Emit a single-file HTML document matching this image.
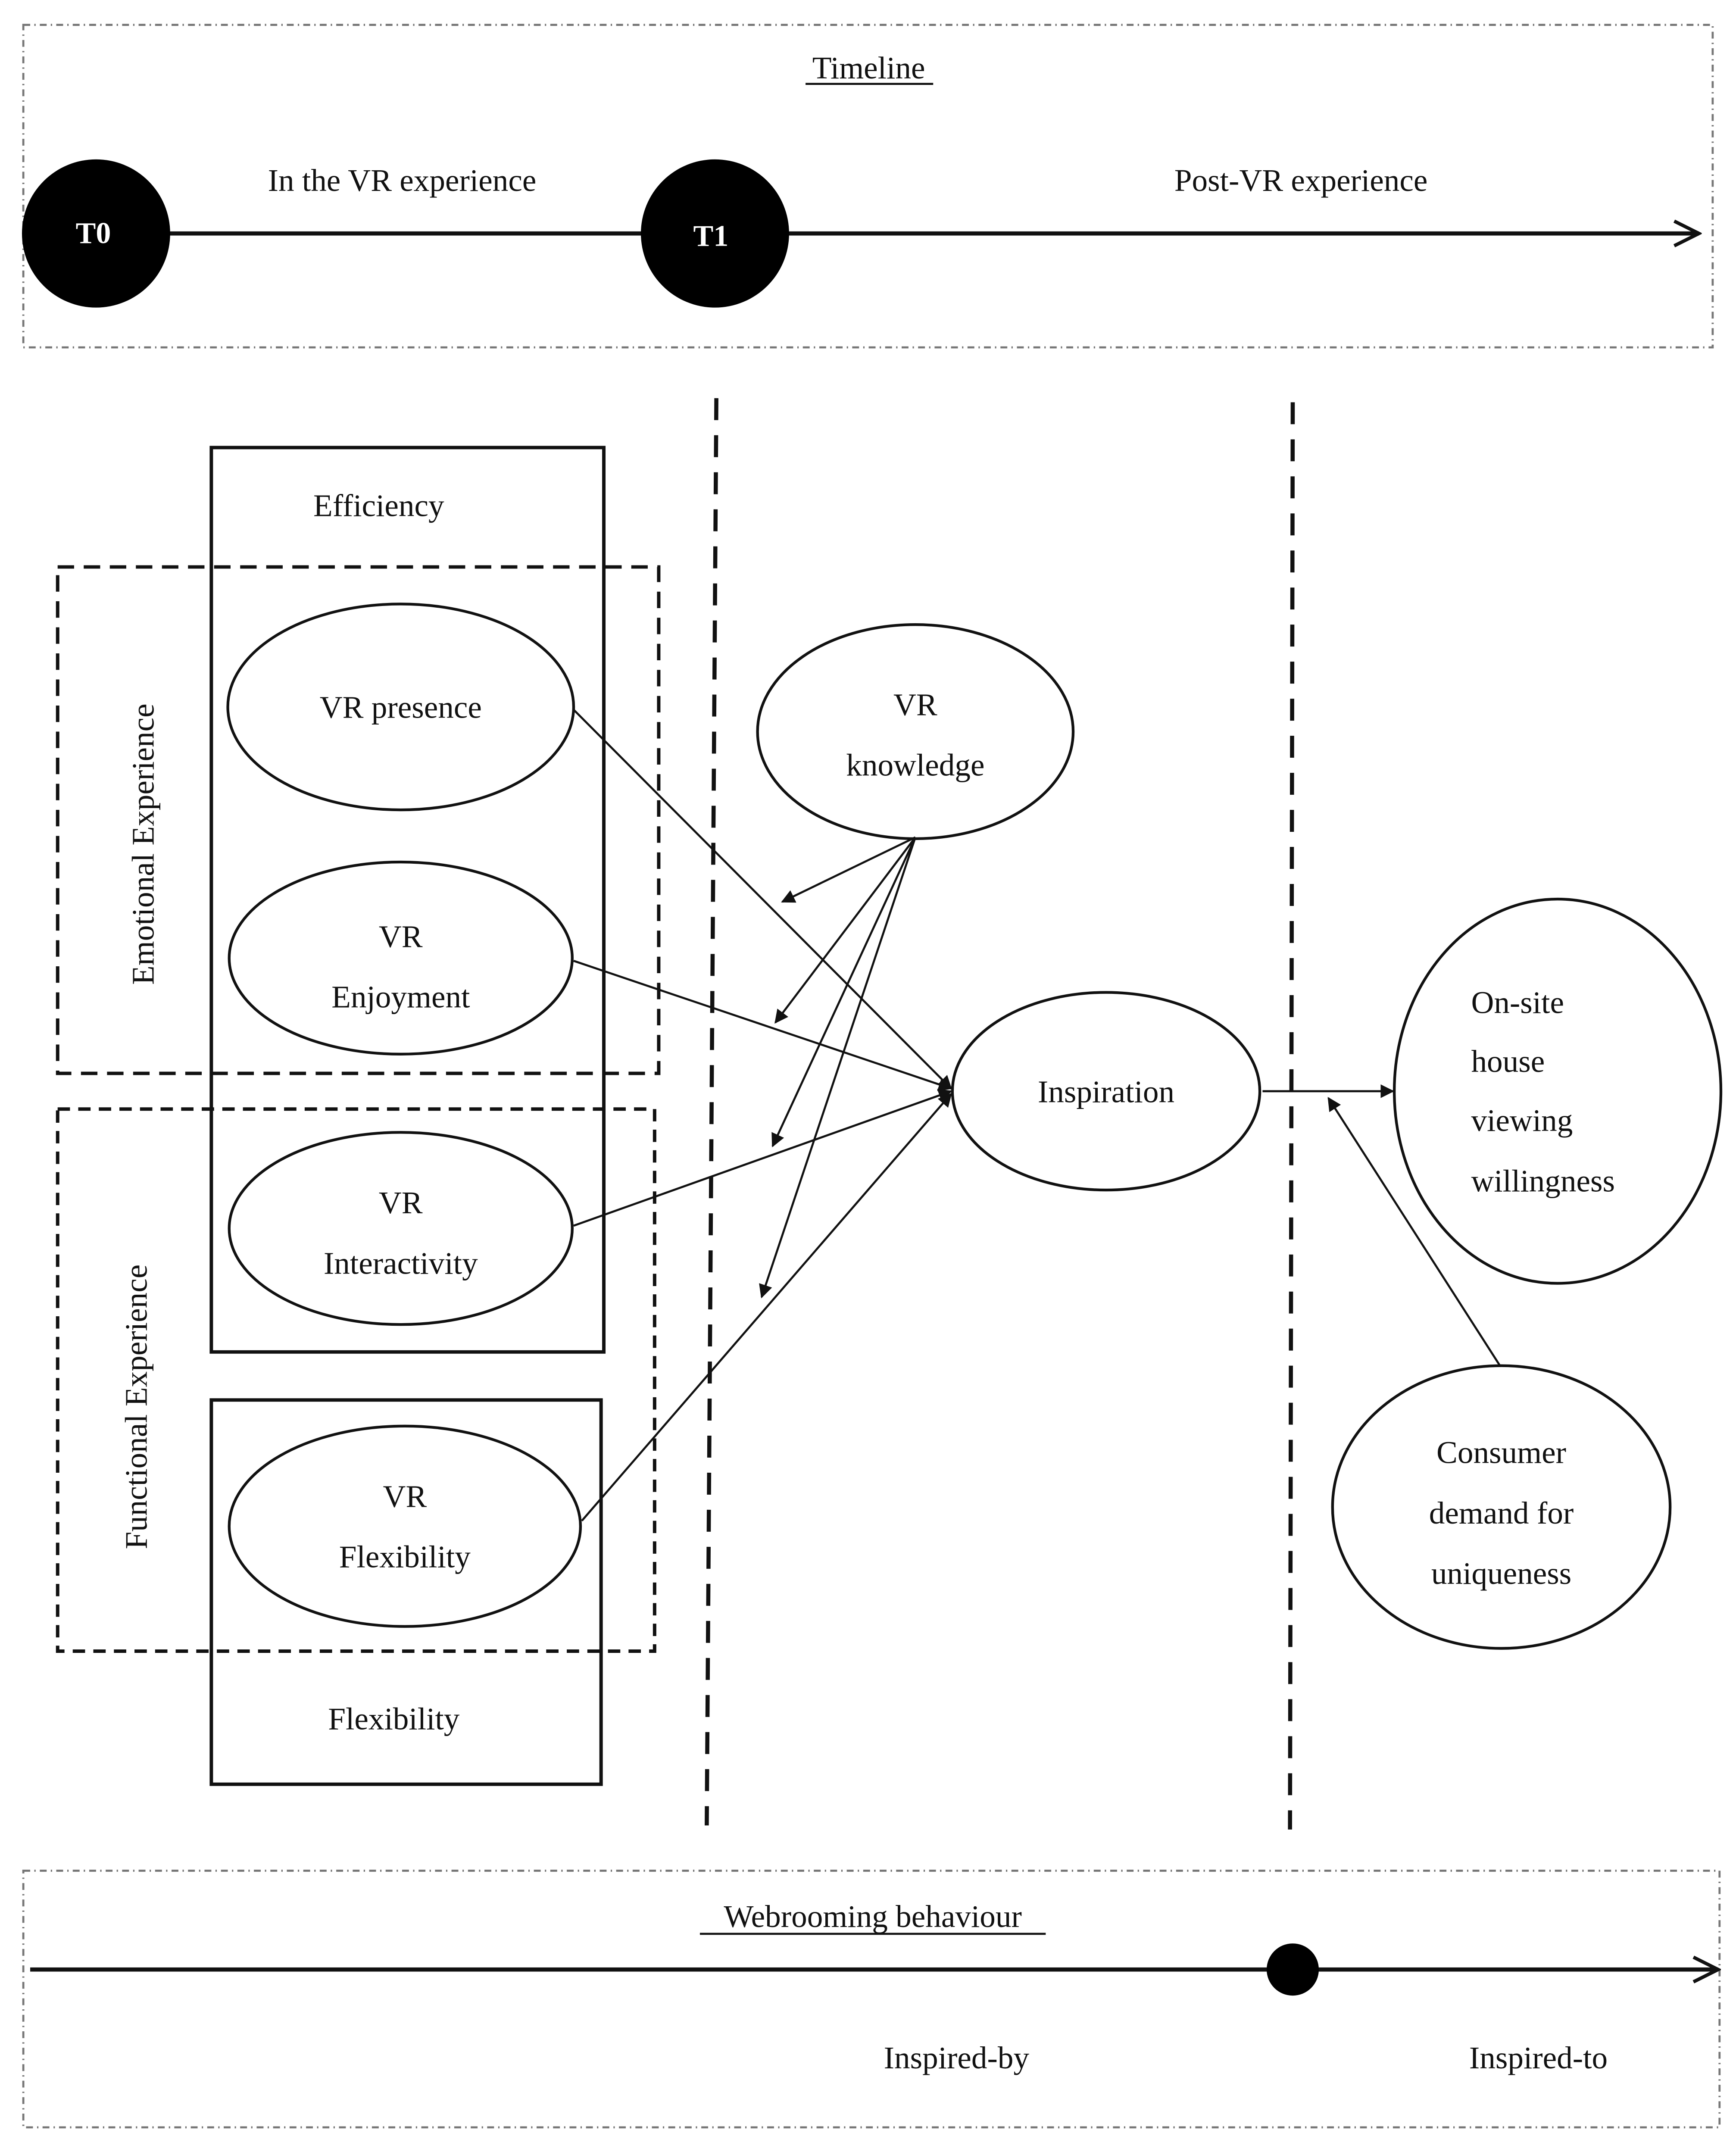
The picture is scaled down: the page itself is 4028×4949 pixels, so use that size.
<!DOCTYPE html>
<html><head><meta charset="utf-8"><style>
html,body{margin:0;padding:0;background:#fff;}
svg{display:block;}
text{font-family:"Liberation Serif",serif;font-size:23px;fill:#111;}
</style></head><body>
<svg width="4028" height="4949" viewBox="0 0 1265 1554" xmlns="http://www.w3.org/2000/svg">
<defs>
<marker id="a" markerWidth="10" markerHeight="10" refX="9" refY="5" orient="auto" markerUnits="userSpaceOnUse" viewBox="0 0 10 10"><path d="M0,0 L10,5 L0,10 z" fill="#111"/></marker>
<marker id="b" markerWidth="22" markerHeight="22" refX="20" refY="11" orient="auto" markerUnits="userSpaceOnUse" viewBox="0 0 22 22"><path d="M2,2 L20,11 L2,20" fill="none" stroke="#111" stroke-width="2.5"/></marker>
</defs>
<rect width="1265" height="1554" fill="#fff"/>
<!-- top box -->
<rect x="17" y="18" width="1231" height="235" fill="none" stroke="#777" stroke-width="1.5" stroke-dasharray="5,3,1,3"/>
<text x="633" y="57" text-anchor="middle">Timeline</text>
<line x1="587" y1="61" x2="680" y2="61" stroke="#111" stroke-width="1.5"/>
<line x1="120" y1="170" x2="1238" y2="170" stroke="#111" stroke-width="3" marker-end="url(#b)"/>
<circle cx="70" cy="170" r="54" fill="#000"/>
<circle cx="521" cy="170" r="54" fill="#000"/>
<text x="68" y="177" text-anchor="middle" style="fill:#fff;font-weight:bold;font-size:22px">T0</text>
<text x="518" y="179" text-anchor="middle" style="fill:#fff;font-weight:bold;font-size:22px">T1</text>
<text x="293" y="139" text-anchor="middle">In the VR experience</text>
<text x="948" y="139" text-anchor="middle">Post-VR experience</text>
<!-- vertical dashed -->
<line x1="522" y1="290" x2="515" y2="1330" stroke="#111" stroke-width="3" stroke-dasharray="16,11"/>
<line x1="942" y1="293" x2="940" y2="1333" stroke="#111" stroke-width="3" stroke-dasharray="16,11"/>
<!-- rects -->
<rect x="154" y="326" width="286" height="659" fill="none" stroke="#111" stroke-width="2.5"/>
<text x="276" y="376" text-anchor="middle">Efficiency</text>
<rect x="42" y="413" width="438" height="369" fill="none" stroke="#111" stroke-width="2.5" stroke-dasharray="12,7"/>
<rect x="42" y="808" width="435" height="395" fill="none" stroke="#111" stroke-width="2.5" stroke-dasharray="9,6"/>
<rect x="154" y="1020" width="284" height="280" fill="none" stroke="#111" stroke-width="2.5"/>
<text x="287" y="1260" text-anchor="middle">Flexibility</text>
<text transform="translate(112,615) rotate(-90)" text-anchor="middle">Emotional Experience</text>
<text transform="translate(107,1025) rotate(-90)" text-anchor="middle">Functional Experience</text>
<!-- ellipses -->
<g fill="#fff" stroke="#111" stroke-width="2">
<ellipse cx="292" cy="515" rx="126" ry="75"/>
<ellipse cx="292" cy="698" rx="125" ry="70"/>
<ellipse cx="292" cy="895" rx="125" ry="70"/>
<ellipse cx="295" cy="1112" rx="128" ry="73"/>
<ellipse cx="667" cy="533" rx="115" ry="78"/>
<ellipse cx="806" cy="795" rx="112" ry="72"/>
<ellipse cx="1135" cy="795" rx="119" ry="140"/>
<ellipse cx="1094" cy="1098" rx="123" ry="103"/>
</g>
<text x="292" y="523" text-anchor="middle">VR presence</text>
<text x="292" y="690" text-anchor="middle">VR</text>
<text x="292" y="734" text-anchor="middle">Enjoyment</text>
<text x="292" y="884" text-anchor="middle">VR</text>
<text x="292" y="928" text-anchor="middle">Interactivity</text>
<text x="295" y="1098" text-anchor="middle">VR</text>
<text x="295" y="1142" text-anchor="middle">Flexibility</text>
<text x="667" y="521" text-anchor="middle">VR</text>
<text x="667" y="565" text-anchor="middle">knowledge</text>
<text x="806" y="803" text-anchor="middle">Inspiration</text>
<text x="1072" y="738">On-site</text>
<text x="1072" y="781">house</text>
<text x="1072" y="824">viewing</text>
<text x="1072" y="868">willingness</text>
<text x="1094" y="1066" text-anchor="middle">Consumer</text>
<text x="1094" y="1110" text-anchor="middle">demand for</text>
<text x="1094" y="1154" text-anchor="middle">uniqueness</text>
<!-- arrows -->
<g stroke="#111" stroke-width="1.5" fill="none">
<line x1="418" y1="517" x2="693" y2="793" marker-end="url(#a)"/>
<line x1="418" y1="700" x2="693" y2="793" marker-end="url(#a)"/>
<line x1="418" y1="893" x2="693" y2="795" marker-end="url(#a)"/>
<line x1="424" y1="1108" x2="693" y2="797" marker-end="url(#a)"/>
<line x1="667" y1="610" x2="570" y2="657" marker-end="url(#a)"/>
<line x1="667" y1="610" x2="565" y2="745" marker-end="url(#a)"/>
<line x1="667" y1="610" x2="563" y2="835" marker-end="url(#a)"/>
<line x1="667" y1="610" x2="555" y2="945" marker-end="url(#a)"/>
<line x1="920" y1="795" x2="1015" y2="795" marker-end="url(#a)"/>
<line x1="1093" y1="995" x2="968" y2="800" marker-end="url(#a)"/>
</g>
<!-- bottom box -->
<rect x="17" y="1363" width="1236" height="187" fill="none" stroke="#777" stroke-width="1.5" stroke-dasharray="5,3,1,3"/>
<text x="636" y="1404" text-anchor="middle">Webrooming behaviour</text>
<line x1="510" y1="1409" x2="762" y2="1409" stroke="#111" stroke-width="1.5"/>
<line x1="22" y1="1435" x2="1252" y2="1435" stroke="#111" stroke-width="3" marker-end="url(#b)"/>
<circle cx="942" cy="1435" r="19" fill="#000"/>
<text x="697" y="1507" text-anchor="middle">Inspired-by</text>
<text x="1121" y="1507" text-anchor="middle">Inspired-to</text>
</svg>
</body></html>
